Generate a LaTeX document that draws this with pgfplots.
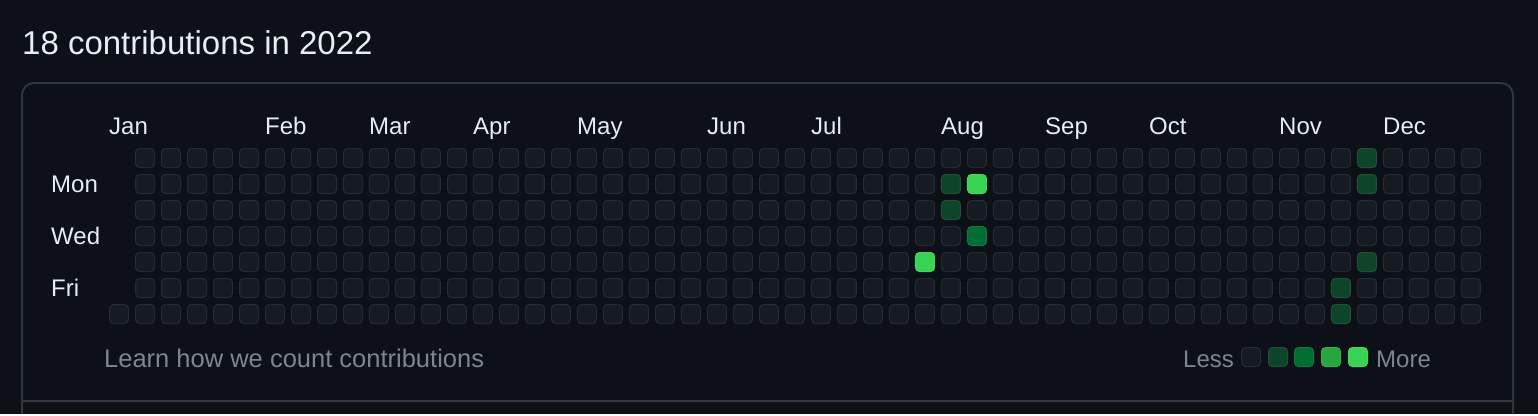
\documentclass[border=0pt]{standalone}
\usepackage{fontspec}
\setmainfont{Liberation Sans}
\usepackage{pgfplots}
\pgfplotsset{compat=1.18}
\usepackage{pgfplotstable}
\definecolor{bg}{HTML}{0D1117}
\definecolor{bd}{HTML}{30363D}
\definecolor{fg}{HTML}{E6EDF3}
\definecolor{muted}{HTML}{7D8590}

% rounded square mark (side 19pt + 1pt outline, corner radius 4pt)
\pgfdeclareplotmark{rsq}{%
  \pgfpathmoveto{\pgfpoint{-5.5pt}{-9.5pt}}%
  \pgfpathlineto{\pgfpoint{5.5pt}{-9.5pt}}%
  \pgfpatharc{-90}{0}{4pt}%
  \pgfpathlineto{\pgfpoint{9.5pt}{5.5pt}}%
  \pgfpatharc{0}{90}{4pt}%
  \pgfpathlineto{\pgfpoint{-5.5pt}{9.5pt}}%
  \pgfpatharc{90}{180}{4pt}%
  \pgfpathlineto{\pgfpoint{-9.5pt}{-5.5pt}}%
  \pgfpatharc{180}{270}{4pt}%
  \pgfpathclose
  \pgfusepathqfillstroke}

% contribution level per week (column) and weekday
\pgfplotstableread{
w su mo tu we th fr sa
0 0 0 0 0 0 0 0
1 0 0 0 0 0 0 0
2 0 0 0 0 0 0 0
3 0 0 0 0 0 0 0
4 0 0 0 0 0 0 0
5 0 0 0 0 0 0 0
6 0 0 0 0 0 0 0
7 0 0 0 0 0 0 0
8 0 0 0 0 0 0 0
9 0 0 0 0 0 0 0
10 0 0 0 0 0 0 0
11 0 0 0 0 0 0 0
12 0 0 0 0 0 0 0
13 0 0 0 0 0 0 0
14 0 0 0 0 0 0 0
15 0 0 0 0 0 0 0
16 0 0 0 0 0 0 0
17 0 0 0 0 0 0 0
18 0 0 0 0 0 0 0
19 0 0 0 0 0 0 0
20 0 0 0 0 0 0 0
21 0 0 0 0 0 0 0
22 0 0 0 0 0 0 0
23 0 0 0 0 0 0 0
24 0 0 0 0 0 0 0
25 0 0 0 0 0 0 0
26 0 0 0 0 0 0 0
27 0 0 0 0 0 0 0
28 0 0 0 0 0 0 0
29 0 0 0 0 0 0 0
30 0 0 0 0 0 0 0
31 0 0 0 0 4 0 0
32 0 1 1 0 0 0 0
33 0 4 0 2 0 0 0
34 0 0 0 0 0 0 0
35 0 0 0 0 0 0 0
36 0 0 0 0 0 0 0
37 0 0 0 0 0 0 0
38 0 0 0 0 0 0 0
39 0 0 0 0 0 0 0
40 0 0 0 0 0 0 0
41 0 0 0 0 0 0 0
42 0 0 0 0 0 0 0
43 0 0 0 0 0 0 0
44 0 0 0 0 0 0 0
45 0 0 0 0 0 0 0
46 0 0 0 0 0 0 0
47 0 0 0 0 0 1 1
48 1 1 0 0 1 0 0
49 0 0 0 0 0 0 0
50 0 0 0 0 0 0 0
51 0 0 0 0 0 0 0
52 0 0 0 0 0 0 0
}\contrib

\pgfplotsset{
  colormap={gh}{rgb255=(22,27,34) rgb255=(14,68,41) rgb255=(0,109,50) rgb255=(38,166,65) rgb255=(57,211,83)},
  base/.style={scale only axis, width=1538pt, height=414pt, hide axis, clip=false,
    y dir=reverse, point meta min=0, point meta max=4, enlargelimits=false},
  cell/.style={scatter, only marks, mark=rsq, point meta=explicit, line width=1pt,
    scatter/use mapped color={draw=mapped color!93!white, fill=mapped color}},
}
\tikzset{
  lab/.style={inner sep=0pt, text=fg, font=\fontsize{24}{28}\selectfont},
  mlab/.style={inner sep=0pt, text=muted, font=\fontsize{24}{28}\selectfont},
}

\begin{document}
\begin{tikzpicture}
% pixel-coordinate axis: background, frame, texts, legend
\begin{axis}[base, xmin=0, xmax=1538, ymin=0, ymax=414]
  \fill[bg] (0,0) rectangle (1538,414);
  \draw[bd, line width=2pt, rounded corners=12pt] (22,414) -- (22,83) -- (1513,83) -- (1513,414);
  \draw[bd, line width=2pt] (22,401) -- (1513,401);
  \node[anchor=base west, inner sep=0pt, text=fg, font=\fontsize{33}{38}\selectfont] at (22,54) {18 contributions in 2022};
  % month labels
  \node[lab, anchor=base west] at (109,134.5) {Jan};
  \node[lab, anchor=base west] at (265,134.5) {Feb};
  \node[lab, anchor=base west] at (369,134.5) {Mar};
  \node[lab, anchor=base west] at (473,134.5) {Apr};
  \node[lab, anchor=base west] at (577,134.5) {May};
  \node[lab, anchor=base west] at (707,134.5) {Jun};
  \node[lab, anchor=base west] at (811,134.5) {Jul};
  \node[lab, anchor=base west] at (941,134.5) {Aug};
  \node[lab, anchor=base west] at (1045,134.5) {Sep};
  \node[lab, anchor=base west] at (1149,134.5) {Oct};
  \node[lab, anchor=base west] at (1279,134.5) {Nov};
  \node[lab, anchor=base west] at (1383,134.5) {Dec};
  % weekday labels
  \node[lab, anchor=base west] at (51,192.6) {Mon};
  \node[lab, anchor=base west] at (51,244.6) {Wed};
  \node[lab, anchor=base west] at (51,296.6) {Fri};
  % footer
  \node[mlab, anchor=base west, font=\fontsize{25.5}{30}\selectfont] at (104,367) {Learn how we count contributions};
  \node[mlab, anchor=base west] at (1183,367) {Less};
  \node[mlab, anchor=base west] at (1376,367) {More};
  \addplot[cell] coordinates {(1251,357) [0] (1278,357) [1] (1304,357) [2] (1331,357) [3] (1358,357) [4]};
\end{axis}
% cell axis: x = week index, y = weekday index (0 = Sunday)
\begin{axis}[base, xmin=-4.576923, xmax=54.576923, ymin=-6.076923, ymax=9.846154]
  \addplot[cell, skip coords between index={0}{1}] table[x=w, y expr=0, meta=su] {\contrib};
  \addplot[cell, skip coords between index={0}{1}] table[x=w, y expr=1, meta=mo] {\contrib};
  \addplot[cell, skip coords between index={0}{1}] table[x=w, y expr=2, meta=tu] {\contrib};
  \addplot[cell, skip coords between index={0}{1}] table[x=w, y expr=3, meta=we] {\contrib};
  \addplot[cell, skip coords between index={0}{1}] table[x=w, y expr=4, meta=th] {\contrib};
  \addplot[cell, skip coords between index={0}{1}] table[x=w, y expr=5, meta=fr] {\contrib};
  \addplot[cell] table[x=w, y expr=6, meta=sa] {\contrib};
\end{axis}
\end{tikzpicture}
\end{document}
